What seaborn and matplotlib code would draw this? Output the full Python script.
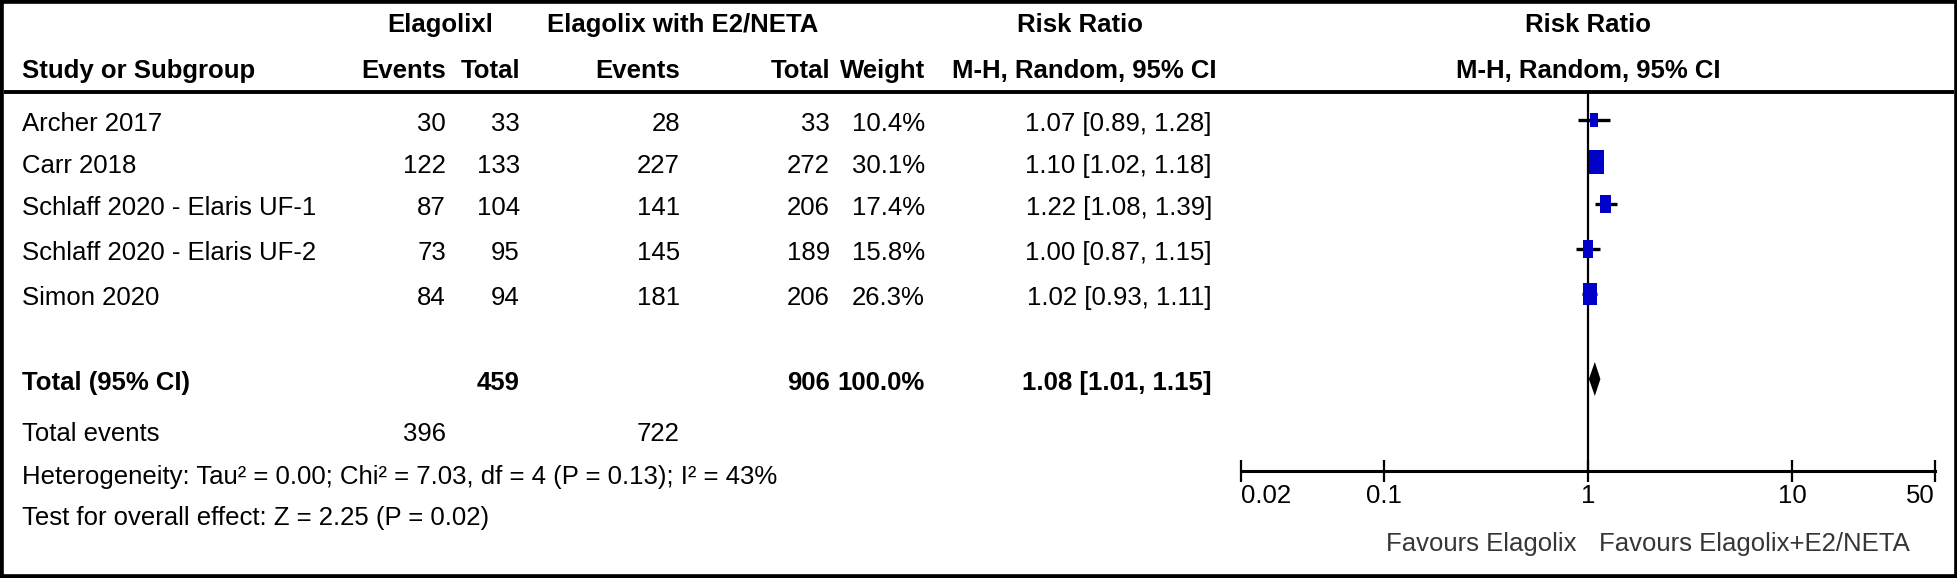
import numpy as np
import pandas as pd
import matplotlib
matplotlib.use("Agg")
import matplotlib.pyplot as plt
from matplotlib import font_manager
from matplotlib.path import Path
from matplotlib.markers import MarkerStyle
from matplotlib.patches import Rectangle
import seaborn as sns

# ---------------- data ----------------
studies = ["Archer 2017", "Carr 2018", "Schlaff 2020 - Elaris UF-1",
           "Schlaff 2020 - Elaris UF-2", "Simon 2020"]
ela_events = [30, 122, 87, 73, 84]
ela_total = [33, 133, 104, 95, 94]
e2_events = [28, 227, 141, 145, 181]
e2_total = [33, 272, 206, 189, 206]
weights = [10.4, 30.1, 17.4, 15.8, 26.3]
rr = [1.07, 1.10, 1.22, 1.00, 1.02]
rr_lo = [0.89, 1.02, 1.08, 0.87, 0.93]
rr_hi = [1.28, 1.18, 1.39, 1.15, 1.11]

total_ela_n = 459
total_e2_n = 906
total_weight = 100.0
total_rr, total_lo, total_hi = 1.08, 1.01, 1.15
total_ela_events = 396
total_e2_events = 722
heterogeneity = "Heterogeneity: Tau\u00b2 = 0.00; Chi\u00b2 = 7.03, df = 4 (P = 0.13); I\u00b2 = 43%"
overall = "Test for overall effect: Z = 2.25 (P = 0.02)"

tick_values = [0.02, 0.1, 1, 10, 50]
tick_labels = ["0.02", "0.1", "1", "10", "50"]
favours_left = "Favours Elagolix"
favours_right = "Favours Elagolix+E2/NETA"

# ---------------- style ----------------
sns.set_theme(style="white")
names = {f.name for f in font_manager.fontManager.ttflist}
if "Liberation Sans Narrow" in names:
    FAM, FS = "Liberation Sans Narrow", 22.5
else:
    FAM, FS = "Liberation Sans", 18.5
plt.rcParams["font.family"] = [FAM, "DejaVu Sans"]

W, H = 1958, 578
fig = plt.figure(figsize=(W / 100, H / 100), dpi=100)
fig.patch.set_facecolor("white")

tab = fig.add_axes([0, 0, 1, 1])
tab.set_xlim(0, W)
tab.set_ylim(H, 0)
tab.axis("off")

# layout (pixels)
X_LABEL = 22
X_EE, X_ET, X_NE, X_NT, X_W, X_RR = 446, 520, 680, 830, 925, 1212
Y_H1, Y_H2, Y_LINE = 21, 67, 92
row_y = [120, 162, 204, 249, 294]
Y_TOT, Y_EVT, Y_HET, Y_TEST = 379, 430, 473, 514
AX_L, AX_R, AX_Y = 1241, 1935, 471
CAP = 11  # half cap-height in px, for baseline placement


def put(x, y, s, ha="left", bold=False, color="black"):
    tab.text(x, y + CAP, s, ha=ha, va="baseline", fontsize=FS,
             fontweight="bold" if bold else "normal", color=color)


# headers
put(440, Y_H1, "Elagolixl", ha="center", bold=True)
put(683, Y_H1, "Elagolix with E2/NETA", ha="center", bold=True)
put(1080, Y_H1, "Risk Ratio", ha="center", bold=True)
put(1588, Y_H1, "Risk Ratio", ha="center", bold=True)
put(X_LABEL, Y_H2, "Study or Subgroup", bold=True)
put(X_EE, Y_H2, "Events", ha="right", bold=True)
put(X_ET, Y_H2, "Total", ha="right", bold=True)
put(X_NE, Y_H2, "Events", ha="right", bold=True)
put(X_NT, Y_H2, "Total", ha="right", bold=True)
put(X_W, Y_H2, "Weight", ha="right", bold=True)
put(1217, Y_H2, "M-H, Random, 95% CI", ha="right", bold=True)
put(1588, Y_H2, "M-H, Random, 95% CI", ha="center", bold=True)
tab.hlines(Y_LINE, 4, W - 4, color="black", lw=2.8)

# study rows
for i, s in enumerate(studies):
    y = row_y[i]
    put(X_LABEL, y, s)
    put(X_EE, y, f"{ela_events[i]}", ha="right")
    put(X_ET, y, f"{ela_total[i]}", ha="right")
    put(X_NE, y, f"{e2_events[i]}", ha="right")
    put(X_NT, y, f"{e2_total[i]}", ha="right")
    put(X_W, y, f"{weights[i]:.1f}%", ha="right")
    put(X_RR, y, f"{rr[i]:.2f} [{rr_lo[i]:.2f}, {rr_hi[i]:.2f}]", ha="right")

# totals
put(X_LABEL, Y_TOT, "Total (95% CI)", bold=True)
put(X_ET, Y_TOT, f"{total_ela_n}", ha="right", bold=True)
put(X_NT, Y_TOT, f"{total_e2_n}", ha="right", bold=True)
put(X_W, Y_TOT, f"{total_weight:.1f}%", ha="right", bold=True)
put(X_RR, Y_TOT, f"{total_rr:.2f} [{total_lo:.2f}, {total_hi:.2f}]", ha="right", bold=True)
put(X_LABEL, Y_EVT, "Total events")
put(X_EE, Y_EVT, f"{total_ela_events}", ha="right")
put(X_NE, Y_EVT, f"{total_e2_events}", ha="right")
put(X_LABEL, Y_HET, heterogeneity)
put(X_LABEL, Y_TEST, overall)

# ---------------- forest panel ----------------
fax = fig.add_axes([AX_L / W, 0, (AX_R - AX_L) / W, 1])
fax.set_facecolor("none")
fax.set_xscale("log")
fax.set_xlim(tick_values[0], tick_values[-1])
fax.set_ylim(H, 0)
for sp in ["top", "left", "right"]:
    fax.spines[sp].set_visible(False)
fax.spines["bottom"].set_position(("data", AX_Y))
fax.spines["bottom"].set_linewidth(2.2)
fax.spines["bottom"].set_color("black")
fax.set_xticks(tick_values)
fax.set_xticklabels([""] * len(tick_values))
fax.minorticks_off()
fax.tick_params(axis="x", direction="inout", length=16, width=1.6,
                color="black", bottom=True)
fax.set_yticks([])

for v, lab, ha in zip(tick_values, tick_labels,
                      ["left", "center", "center", "center", "right"]):
    fax.text(v, 492 + CAP, lab, ha=ha, va="baseline", fontsize=FS, color="black")

# line of no effect
fax.vlines(1, Y_LINE, AX_Y, color="black", lw=1.6, zorder=1)

# CI lines
fax.hlines(row_y, rr_lo, rr_hi, color="black", lw=2.4, zorder=2)

# weighted squares (taller than wide, as in the reference)
verts = [(-0.31, -0.5), (0.31, -0.5), (0.31, 0.5), (-0.31, 0.5), (-0.31, -0.5)]
codes = [Path.MOVETO, Path.LINETO, Path.LINETO, Path.LINETO, Path.CLOSEPOLY]
rect_marker = MarkerStyle(Path(verts, codes))
df = pd.DataFrame({"rr": rr, "y": row_y, "weight": weights})
sns.scatterplot(data=df, x="rr", y="y", size="weight",
                sizes=(10 * min(weights), 10 * max(weights)),
                size_norm=(min(weights), max(weights)),
                marker=rect_marker, color="#0000C8", linewidth=0,
                legend=False, ax=fax, zorder=3)
fax.set_xlabel("")
fax.set_ylabel("")
fax.set_ylim(H, 0)

# summary diamond
fax.fill([total_lo, total_rr, total_hi, total_rr],
         [Y_TOT, Y_TOT - 17, Y_TOT, Y_TOT + 17], color="black", zorder=3, lw=0)

# favours labels
fax.annotate(favours_left, xy=(1, 540 + CAP), xytext=(-8, 0),
             textcoords="offset points", ha="right", va="baseline",
             fontsize=FS, color="#363636")
fax.annotate(favours_right, xy=(1, 540 + CAP), xytext=(8, 0),
             textcoords="offset points", ha="left", va="baseline",
             fontsize=FS, color="#363636")

# outer frame
fig.patches.append(Rectangle((0, 0), 1, 1, transform=fig.transFigure,
                             fill=False, edgecolor="black", lw=5.5, zorder=10))

fig.savefig("out.png", dpi=100, facecolor="white")
